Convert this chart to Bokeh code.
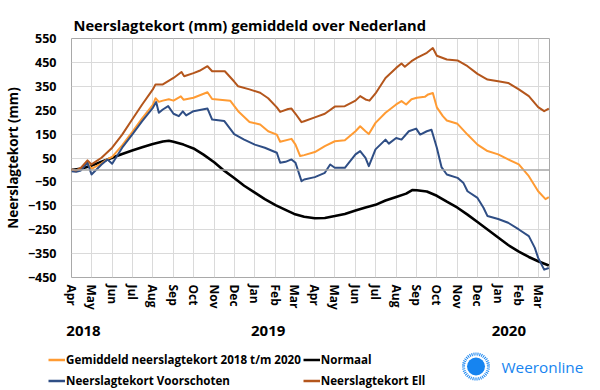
import pandas as pd
from bokeh.plotting import figure
from bokeh.layouts import column
from bokeh.models import (Range1d, LinearAxis, FixedTicker, Grid, Span, Label,
                          Legend, LegendItem)
from bokeh.embed import file_html
from bokeh.resources import INLINE

# ---------------- data ----------------
START = "2018-04-01"
END = "2020-03-18"

MONTH_LABELS = ["Apr", "May", "Jun", "Jul", "Aug", "Sep", "Oct", "Nov", "Dec",
                "Jan", "Feb", "Mar", "Apr", "May", "Jun", "Jul", "Aug", "Sep",
                "Oct", "Nov", "Dec", "Jan", "Feb", "Mar"]
YEAR_LABELS = ["2018", "2019", "2020"]
YEAR_LABEL_DATES = ["2018-04-19", "2019-01-21", "2020-01-17"]
Y_TICKS = [-450, -350, -250, -150, -50, 50, 150, 250, 350, 450, 550]

normaal_dates = ["2018-04-01", "2018-04-16", "2018-05-01", "2018-05-16", "2018-06-01",
                 "2018-06-16", "2018-07-01", "2018-07-16", "2018-08-01", "2018-08-16",
                 "2018-08-25", "2018-09-01", "2018-09-16", "2018-10-01", "2018-10-16",
                 "2018-11-01", "2018-11-16", "2018-12-01", "2018-12-16", "2019-01-01",
                 "2019-01-16", "2019-02-01", "2019-02-16", "2019-03-01", "2019-03-16",
                 "2019-04-01", "2019-04-16", "2019-05-01", "2019-05-16", "2019-06-01",
                 "2019-06-16", "2019-07-01", "2019-07-16", "2019-08-01", "2019-08-16",
                 "2019-08-25", "2019-09-01", "2019-09-16", "2019-10-01", "2019-10-16",
                 "2019-11-01", "2019-11-16", "2019-12-01", "2019-12-16", "2020-01-01",
                 "2020-01-16", "2020-02-01", "2020-02-16", "2020-03-01", "2020-03-17"]
normaal_vals = [0, 6, 18, 34, 51, 67, 81, 95, 109, 119, 122, 118, 106, 90, 64, 32, -3,
                -34, -66, -95, -122, -147, -167, -184, -196, -202, -201, -193, -184,
                -170, -157, -146, -128, -113, -99, -84, -85, -90, -108, -133, -158,
                -187, -218, -249, -283, -314, -342, -364, -382, -400]

gem_dates = ["2018-04-01", "2018-04-08", "2018-04-15", "2018-04-25", "2018-05-01",
             "2018-05-16", "2018-05-25", "2018-06-01", "2018-06-16", "2018-07-01",
             "2018-07-16", "2018-08-01", "2018-08-05", "2018-08-10", "2018-08-16",
             "2018-08-25", "2018-09-01", "2018-09-12", "2018-09-16", "2018-10-01",
             "2018-10-22", "2018-10-29", "2018-11-25", "2018-12-07", "2018-12-24",
             "2019-01-09", "2019-01-21", "2019-02-03", "2019-02-08", "2019-02-25",
             "2019-03-03", "2019-03-10", "2019-03-16", "2019-04-01", "2019-04-16",
             "2019-05-01", "2019-05-16", "2019-06-01", "2019-06-08", "2019-06-16",
             "2019-06-21", "2019-07-01", "2019-07-16", "2019-08-01", "2019-08-09",
             "2019-08-16", "2019-08-24", "2019-09-01", "2019-09-13", "2019-09-18",
             "2019-09-25", "2019-10-01", "2019-10-10", "2019-10-16", "2019-11-01",
             "2019-11-16", "2019-12-01", "2019-12-16", "2020-01-01", "2020-01-16",
             "2020-02-01", "2020-02-16", "2020-03-01", "2020-03-12", "2020-03-17"]
gem_vals = [0, -4, 8, 30, 5, 28, 45, 55, 103, 158, 216, 272, 300, 285, 290, 296, 290,
            308, 294, 302, 325, 297, 290, 246, 201, 190, 162, 148, 118, 130, 106, 58,
            62, 75, 100, 120, 124, 162, 183, 162, 150, 197, 239, 274, 288, 274, 296,
            302, 306, 316, 322, 262, 225, 207, 193, 148, 106, 79, 65, 44, 23, -26, -89,
            -122, -114]

voor_dates = ["2018-04-01", "2018-04-08", "2018-04-15", "2018-04-25", "2018-05-01",
              "2018-05-16", "2018-05-25", "2018-06-01", "2018-06-16", "2018-07-01",
              "2018-07-16", "2018-08-01", "2018-08-06", "2018-08-10", "2018-08-16",
              "2018-08-24", "2018-09-01", "2018-09-09", "2018-09-15", "2018-09-20",
              "2018-10-01", "2018-10-22", "2018-10-29", "2018-11-16", "2018-12-01",
              "2018-12-16", "2019-01-01", "2019-01-16", "2019-02-03", "2019-02-08",
              "2019-02-16", "2019-02-25", "2019-03-03", "2019-03-12", "2019-03-16",
              "2019-04-01", "2019-04-16", "2019-04-24", "2019-05-01", "2019-05-16",
              "2019-06-01", "2019-06-08", "2019-06-16", "2019-06-21", "2019-07-01",
              "2019-07-16", "2019-07-21", "2019-08-01", "2019-08-09", "2019-08-20",
              "2019-08-31", "2019-09-06", "2019-09-16", "2019-09-23", "2019-10-01",
              "2019-10-08", "2019-10-16", "2019-11-01", "2019-11-10", "2019-11-16",
              "2019-12-01", "2019-12-10", "2019-12-16", "2020-01-01", "2020-01-16",
              "2020-02-01", "2020-02-16", "2020-02-25", "2020-03-01", "2020-03-10",
              "2020-03-17"]
voor_vals = [-5, -8, -2, 30, -19, 23, 44, 26, 93, 148, 204, 260, 284, 239, 253, 267,
             235, 225, 245, 228, 246, 257, 211, 205, 150, 127, 106, 93, 72, 30, 34, 44,
             30, -47, -40, -30, -12, 23, 9, 9, 65, 79, 51, 16, 86, 127, 110, 134, 127,
             162, 173, 148, 162, 168, 93, 12, -19, -33, -55, -89, -117, -158, -193,
             -205, -221, -249, -277, -326, -368, -417, -410]

ell_dates = ["2018-04-01", "2018-04-08", "2018-04-15", "2018-04-25", "2018-05-01",
             "2018-05-16", "2018-06-01", "2018-06-16", "2018-07-01", "2018-07-16",
             "2018-08-01", "2018-08-05", "2018-08-16", "2018-09-01", "2018-09-13",
             "2018-09-17", "2018-10-01", "2018-10-10", "2018-10-22", "2018-10-29",
             "2018-11-17", "2018-12-01", "2018-12-07", "2018-12-24", "2019-01-09",
             "2019-01-21", "2019-02-03", "2019-02-08", "2019-02-20", "2019-02-25",
             "2019-03-03", "2019-03-12", "2019-03-16", "2019-04-01", "2019-04-16",
             "2019-05-01", "2019-05-16", "2019-06-01", "2019-06-08", "2019-06-16",
             "2019-06-22", "2019-07-01", "2019-07-16", "2019-08-01", "2019-08-09",
             "2019-08-14", "2019-08-24", "2019-09-01", "2019-09-16", "2019-09-25",
             "2019-10-01", "2019-10-16", "2019-11-01", "2019-11-16", "2019-12-01",
             "2019-12-16", "2020-01-01", "2020-01-16", "2020-02-01", "2020-02-16",
             "2020-03-01", "2020-03-10", "2020-03-17"]
ell_vals = [2, -2, 9, 40, 23, 51, 93, 148, 211, 274, 337, 358, 358, 385, 410, 392, 405,
            415, 434, 413, 413, 370, 350, 337, 323, 300, 262, 243, 255, 257, 235, 200,
            204, 220, 235, 265, 267, 290, 309, 295, 290, 320, 385, 427, 445, 432, 455,
            469, 490, 510, 478, 462, 458, 434, 402, 378, 371, 364, 337, 309, 263, 246,
            257]

SERIES_NAMES = ["Gemiddeld neerslagtekort 2018 t/m 2020", "Normaal",
                "Neerslagtekort Voorschoten", "Neerslagtekort Ell"]
COLORS = {"gem": "#ff9b33", "norm": "#000000", "voor": "#2f4e85", "ell": "#b4561c"}
WIDTHS = {"gem": 2, "norm": 2.6, "voor": 2, "ell": 2}

# ---------------- helpers ----------------
t0 = pd.Timestamp(START)


def days(ds):
    return [(pd.Timestamp(d) - t0).days for d in ds]


def no_frame_align(fig):
    if "frame_align" in fig.properties():
        fig.frame_align = False


FONT = "Open Sans"

p = figure(width=600, height=350, output_backend="svg", toolbar_location=None,
           x_range=Range1d(0, days([END])[0]), y_range=Range1d(-450, 550),
           x_axis_type=None, y_axis_type=None,
           min_border_left=68, min_border_right=51, min_border_top=38,
           min_border_bottom=73)
no_frame_align(p)
p.background_fill_color = "white"
p.border_fill_color = "white"
p.outline_line_color = "#a9a9a9"
p.outline_line_width = 1

# title
p.title.text = "Neerslagtekort (mm) gemiddeld over Nederland"
p.title.text_font = FONT
p.title.text_font_size = "14.7px"
p.title.text_font_style = "bold"
p.title.text_color = "#000000"
p.title.align = "left"
p.title.offset = 2
p.title.standoff = 8

# tickers
month_ticks = days(pd.date_range(START, "2020-03-01", freq="MS").strftime("%Y-%m-%d"))
month_ticker = FixedTicker(ticks=month_ticks)
y_ticker = FixedTicker(ticks=Y_TICKS)
year_ticks = days(YEAR_LABEL_DATES)

# grids
p.add_layout(Grid(dimension=0, ticker=month_ticker, grid_line_color="#dadada",
                  grid_line_width=1))
p.add_layout(Grid(dimension=1, ticker=y_ticker, grid_line_color="#dadada",
                  grid_line_width=1))
p.add_layout(Span(location=0, dimension="width", line_color="#a6a6a6",
                  line_width=1.5))

# y axis
yax = LinearAxis(ticker=y_ticker, axis_label="Neerslagtekort (mm)")
yax.axis_line_color = None
yax.major_tick_line_color = None
yax.minor_tick_line_color = None
yax.major_tick_out = 0
yax.major_label_standoff = 15
yax.major_label_text_font = FONT
yax.major_label_text_font_size = "12.5px"
yax.major_label_text_font_style = "bold"
yax.major_label_text_color = "#000000"
yax.axis_label_text_font = FONT
yax.axis_label_text_font_size = "13.5px"
yax.axis_label_text_font_style = "bold"
yax.axis_label_text_color = "#000000"
yax.axis_label_standoff = 3
p.add_layout(yax, "left")

# month axis
max_ = LinearAxis(ticker=month_ticker,
                  major_label_overrides={t: l for t, l in zip(month_ticks, MONTH_LABELS)})
max_.major_label_orientation = "vertical"
max_.axis_line_color = None
max_.major_tick_line_color = None
max_.minor_tick_line_color = None
max_.major_tick_out = 0
max_.major_label_standoff = 7
max_.major_label_text_font = FONT
max_.major_label_text_font_size = "12px"
max_.major_label_text_font_style = "bold"
max_.major_label_text_color = "#000000"
p.add_layout(max_, "below")

# year axis
yr = LinearAxis(ticker=FixedTicker(ticks=year_ticks),
                major_label_overrides={t: l for t, l in zip(year_ticks, YEAR_LABELS)})
yr.axis_line_color = None
yr.major_tick_line_color = None
yr.minor_tick_line_color = None
yr.major_tick_out = 0
yr.major_label_standoff = 13
yr.major_label_text_font = FONT
yr.major_label_text_font_size = "15px"
yr.major_label_text_font_style = "bold"
yr.major_label_text_color = "#000000"
p.add_layout(yr, "below")

# lines
p.line(days(normaal_dates), normaal_vals, line_color=COLORS["norm"],
       line_width=WIDTHS["norm"], line_join="round")
p.line(days(gem_dates), gem_vals, line_color=COLORS["gem"],
       line_width=WIDTHS["gem"], line_join="round")
p.line(days(voor_dates), voor_vals, line_color=COLORS["voor"],
       line_width=WIDTHS["voor"], line_join="round")
p.line(days(ell_dates), ell_vals, line_color=COLORS["ell"],
       line_width=WIDTHS["ell"], line_join="round")

# ---------------- bottom strip: legend + logo ----------------
q = figure(width=600, height=40, output_backend="svg", toolbar_location=None,
           x_range=Range1d(0, 600), y_range=Range1d(390, 350),
           x_axis_type=None, y_axis_type=None, title=None, min_border=0)
no_frame_align(q)
q.outline_line_color = None
q.background_fill_color = "white"
q.border_fill_color = "white"

keys = ["gem", "norm", "voor", "ell"]
items = []
for k, name in zip(keys, SERIES_NAMES):
    # legend swatches only: kept outside the visible x range
    r = q.line(x=[-60, -50], y=[370, 370], line_color=COLORS[k], line_width=2.5)
    items.append(LegendItem(label=name, renderers=[r]))

legend = Legend(items=items, location=(48, 0), orientation="horizontal", ncols=2)
legend.padding = 0
legend.margin = 0
legend.spacing = 2
legend.glyph_width = 17
legend.glyph_height = 19
legend.label_height = 19
legend.label_standoff = 1
legend.label_text_font = FONT
legend.label_text_font_size = "11.6px"
legend.label_text_font_style = "bold"
legend.label_text_color = "#000000"
legend.border_line_color = None
legend.background_fill_alpha = 0
q.add_layout(legend)

BLUE = "#1684f0"
q.scatter(x=[475.5], y=[366], size=18, marker="circle", fill_color=BLUE,
          line_color=None)
q.scatter(x=[475.5], y=[366], size=25, marker="circle", fill_alpha=0,
          line_color=BLUE, line_width=3, line_dash="1 1")
q.add_layout(Label(x=501, y=366, text="Weeronline", text_font=FONT,
                   text_font_size="15.3px", text_color=BLUE, text_align="left",
                   text_baseline="middle"))

open("out.html", "w").write(file_html(column(p, q, spacing=0), INLINE))
